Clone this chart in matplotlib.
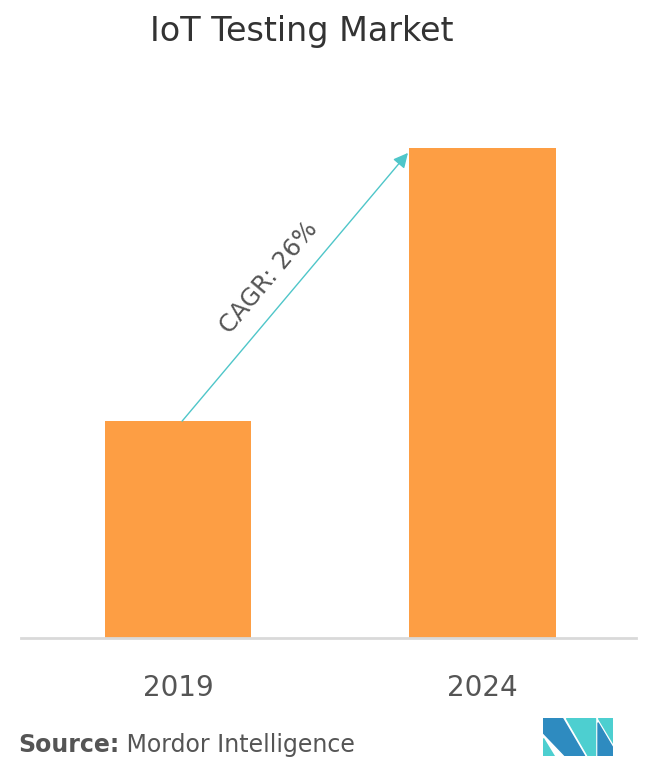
import matplotlib.pyplot as plt
from matplotlib.patches import Polygon

# data (relative market size)
years = ["2019", "2024"]
market_size = [1.0, 2.26]
cagr_label = "CAGR: 26%"

bar_color = "#fd9e44"
arrow_color = "#4fc6c9"
text_color = "#555555"

W, H = 658, 781
fig = plt.figure(figsize=(W / 100, H / 100), dpi=100)

# axes placed in pixel terms: baseline at y=638, plot from x=21 to x=636
ax = fig.add_axes([21 / W, (H - 638) / H, 615 / W, (638 - 100) / H])
x = [0, 1]
ax.bar(x, market_size, width=0.48, color=bar_color, zorder=2)
ax.set_xlim(-0.516, 1.504)
ax.set_ylim(0, market_size[1] * 538 / 490)

for s in ["top", "right", "left"]:
    ax.spines[s].set_visible(False)
ax.spines["bottom"].set_color("#d9d9d9")
ax.spines["bottom"].set_linewidth(2)
ax.set_yticks([])
ax.set_xticks(x)
ax.set_xticklabels(years, fontsize=20, color=text_color)
ax.tick_params(axis="x", length=0, pad=26)

# CAGR arrow
ax.annotate("", xy=(0.755, market_size[1] * 0.99), xytext=(0.013, market_size[0]),
            arrowprops=dict(arrowstyle="-|>", color=arrow_color, lw=1,
                            mutation_scale=22, shrinkA=0, shrinkB=0),
            zorder=3)
ax.text(0.30, 1.66, cagr_label, rotation=50, fontsize=17.5, color=text_color,
        ha="center", va="center", rotation_mode="anchor")

# title
fig.text(302 / W, 1 - 32 / H, "IoT Testing Market", fontsize=24, color="#333333",
         ha="center", va="center")

# source line
src = fig.text(18 / W, 1 - 745 / H, "Source:", fontsize=17, fontweight="bold",
               color=text_color, ha="left", va="center")
ax.annotate(" Mordor Intelligence", xy=(1, 0), xycoords=src, fontsize=17,
            color=text_color, ha="left", va="bottom", annotation_clip=False)

# logo
lg = fig.add_axes([543 / W, 1 - 756 / H, 70 / W, 38 / H])
lg.set_xlim(40, 250)
lg.set_ylim(152, 38)
lg.axis("off")
dark = "#2e8bc0"
cyan = "#4dcfd0"
lg.add_patch(Polygon([(40, 38), (98, 38), (165, 152), (107, 152), (40, 82)], color=dark))
lg.add_patch(Polygon([(40, 98), (40, 152), (74, 152)], color=cyan))
lg.add_patch(Polygon([(108, 38), (195, 38), (195, 152), (175, 152)], color=cyan))
lg.add_patch(Polygon([(205, 38), (250, 38), (250, 114)], color=cyan))
lg.add_patch(Polygon([(205, 52), (250, 128), (250, 152), (205, 152)], color=dark))

fig.savefig("out.png", dpi=100)
